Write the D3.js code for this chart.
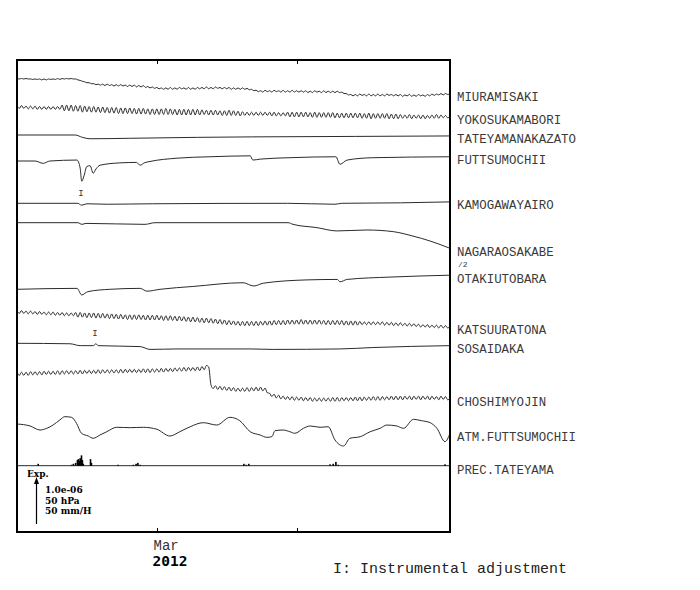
<!DOCTYPE html>
<html>
<head>
<meta charset="utf-8">
<script src="https://cdn.jsdelivr.net/npm/d3@7"></script>
<style>
  body { margin: 0; background: #fff; }
  svg text { font-family: "Liberation Mono", "Courier New", monospace; }
</style>
</head>
<body>
<svg id="chart" width="700" height="590"></svg>
<script>
// time span of the plot (UTC days)
const startDate = Date.UTC(2012, 0, 30);
const endDate = Date.UTC(2012, 4, 5);
const tickDates = [Date.UTC(2012, 2, 1), Date.UTC(2012, 3, 1)];
const tickLabels = ['Mar', ''];
const yearLabel = '2012';

// strain in 1e-8, [day from start, value]
const tateyamanakazato = [[0,0],[12.9,0],[14.5,-5],[16.2,-8],[25,-7],[40,-5],[52,-4],[75,-3],[96,-2]];
const futtsumochii = [[0,0],[4,0],[5.8,-5],[7.3,0],[13.3,2],[14,-15],[14.35,-43],[14.9,-30],[15.45,-12],
  [16.2,-10],[16.9,-26],[17.5,-17],[18.4,-9],[22.8,-4],[26.5,-3],[27.3,-9],[28.2,-4],[29.5,-1],[35.5,6],
  [42.8,9],[51.7,11],[52.3,2],[53.9,4],[60.5,7],[70.7,9],[71.6,-7],[73.2,2],[78.9,7],[96,9]];
const kamogawayairo = [[0,0],[13.5,0],[14.3,-4],[15.5,-1],[20,-2],[30,-1],[60,0],[70.5,-2],[72,0],[85,1],[96,3]];
const nagaraosakabe = [[0,0],[13.5,0],[14.4,-7],[15.3,-3],[28.4,-7],[30.6,0],[60.1,0],[61.2,-7],[66.5,-21],
  [70.9,-35],[77.6,-31],[83.4,-38],[87.8,-57],[91.6,-78],[96,-109]];
const otakiutobara = [[0,0],[13.3,2],[14.35,-12],[15.7,-5],[20.6,0],[27.3,2],[28.8,-4],[31.7,0],[39,6],
  [50.1,14],[52.5,7],[54.6,13],[64.3,20],[71,21],[71.6,16],[73.2,21],[82.7,26],[96,30]];
const sosaidaka = [[0,0],[11.75,-1],[14,-5],[16.9,-5],[17.5,-1],[18,-5],[27.3,-7],[29.5,-13],[35.5,-12],
  [51.7,-12],[56.8,-13],[71.6,-12],[78.9,-9],[96,-5]];

// strain in 1e-8, sampled every half day from the start
const sampleStep = 0.5;
const miuramisaki = [
  0,-1, 0,-1, 0,-1, -1,-2, -1,-2, -1,-3, -1,-3, -1,-2, -1,-2, 0,-2,
  0,-1, 0,-1, 0,-1, -1,-3, -4,-6, -7,-9, -9,-11, -11,-13, -12,-14, -12,-15,
  -12,-15, -13,-16, -13,-16, -13,-16, -14,-17, -14,-17, -14,-18, -15,-18, -15,-19, -17,-20,
  -18,-21, -19,-22, -20,-23, -20,-23, -19,-23, -20,-23, -19,-22, -20,-23, -19,-23, -20,-23,
  -19,-22, -19,-22, -18,-22, -19,-22, -18,-21, -19,-22, -19,-22, -19,-23, -20,-23, -20,-23,
  -20,-23, -21,-24, -23,-26, -25,-28, -26,-29, -25,-28, -26,-29, -25,-28, -26,-29, -25,-29,
  -26,-29, -25,-29, -26,-29, -26,-29, -26,-30, -27,-30, -26,-29, -27,-30, -26,-30, -27,-30,
  -27,-30, -27,-30, -29,-32, -32,-35, -34,-37, -34,-37, -33,-36, -34,-37, -33,-37, -34,-37,
  -33,-37, -34,-37, -33,-36, -34,-37, -34,-37, -34,-38, -35,-37, -34,-38, -35,-38, -34,-37,
  -35,-38, -34,-37, -33,-36, -33,-35, -32,-35, -32,-34,
  -33];
const yokosukamabori = [
  3,-3, 3,-3, 2,-4, 2,-4, 2,-5, 1,-5, 1,-5, 1,-5, 1,-5, 1,-5,
  4,-8, 4,-8, 4,-9, 3,-9, 3,-11, 2,-10, 1,-11, 1,-11, 0,-12, 0,-12,
  -1,-13, -1,-13, -1,-14, -2,-14, -2,-14, -2,-14, -3,-15, -3,-15, -3,-15, -4,-16,
  -4,-16, -4,-16, -4,-16, -3,-16, -4,-16, -5,-17, -5,-17, -5,-17, -5,-17, -5,-17,
  -5,-17, -6,-16, -7,-17, -7,-17, -7,-17, -8,-18, -8,-18, -7,-18, -8,-18, -9,-19,
  -10,-18, -11,-18, -11,-18, -11,-18, -11,-18, -11,-18, -11,-19, -11,-19, -12,-19, -12,-19,
  -11,-21, -11,-21, -11,-21, -11,-21, -11,-21, -12,-22, -11,-22, -12,-22, -12,-22, -12,-22,
  -12,-23, -13,-23, -13,-23, -13,-23, -13,-23, -13,-23, -13,-24, -14,-24, -13,-25, -14,-24,
  -14,-24, -14,-24, -14,-25, -15,-25, -15,-25, -16,-24, -17,-24, -16,-25, -17,-24, -17,-25,
  -17,-25, -18,-24, -17,-24, -16,-24, -17,-23, -18,-23,
  -20];
const katsuuratona = [
  3,-3, 3,-3, 2,-4, 2,-4, 1,-5, 1,-5, 0,-6, 0,-6, 0,-7, -1,-7,
  -1,-8, -2,-8, -2,-8, -1,-11, -1,-11, -2,-12, -2,-12, -2,-13, -3,-13, -3,-13,
  -4,-14, -4,-14, -5,-15, -5,-15, -6,-16, -6,-16, -6,-16, -6,-16, -7,-17, -7,-17,
  -7,-17, -7,-17, -8,-18, -8,-18, -8,-18, -9,-19, -9,-19, -10,-20, -11,-21, -11,-21,
  -12,-22, -13,-23, -13,-23, -14,-24, -15,-25, -16,-26, -17,-27, -18,-27, -19,-28, -20,-29,
  -20,-29, -20,-29, -20,-29, -20,-29, -20,-28, -19,-28, -19,-28, -18,-27, -18,-27, -18,-27,
  -17,-26, -17,-26, -17,-26, -16,-26, -17,-26, -17,-26, -17,-26, -17,-26, -18,-27, -18,-27,
  -18,-27, -18,-27, -18,-28, -19,-28, -19,-28, -19,-28, -20,-27, -21,-27, -21,-27, -21,-27,
  -21,-27, -21,-28, -22,-28, -22,-29, -23,-29, -23,-29, -24,-30, -24,-30, -25,-31, -26,-32,
  -27,-32, -27,-33, -28,-33, -28,-34, -28,-34, -29,-34,
  -31];
const choshimyojin = [
  4,-3, 4,-3, 4,-3, 5,-2, 5,-2, 5,-2, 6,-1, 6,-1, 6,-1, 7,-1,
  7,0, 7,0, 7,0, 7,0, 8,0, 8,1, 8,1, 8,1, 9,1, 9,2,
  9,2, 9,2, 9,2, 10,2, 10,3, 10,3, 10,3, 10,3, 11,3, 11,3,
  11,4, 11,4, 12,4, 12,5, 12,5, 13,6, 13,6, 14,6, 14,7, 14,7,
  15,7, 16,9, 18,15, -23,-31, -25,-33, -26,-34, -27,-35, -28,-36, -29,-37, -30,-37,
  -30,-37, -29,-37, -29,-36, -28,-36, -28,-36, -30,-40, -41,-48, -43,-51, -45,-53, -47,-54,
  -48,-55, -48,-56, -49,-56, -49,-57, -50,-57, -50,-58, -51,-58, -51,-58, -51,-58, -51,-58,
  -50,-58, -50,-58, -50,-57, -50,-57, -50,-57, -49,-57, -49,-57, -49,-56, -49,-56, -48,-56,
  -48,-56, -48,-55, -48,-55, -47,-55, -47,-55, -47,-55, -47,-54, -47,-55, -47,-54, -47,-55,
  -47,-54, -47,-55, -47,-54, -48,-55, -47,-54, -48,-55,
  -52];

// atmospheric pressure, hPa
const atmFuttsumochii = [[0,1012.0],[2.9,1009.9],[5.1,1005.6],[6.6,1007.4],[8,1010.9],[9.5,1016.3],
  [10.6,1019.8],[12.1,1019.1],[13.2,1012.7],[14.3,1002.1],[15.8,999.2],[16.9,996.8],[18.4,1000.3],
  [19.9,1003.8],[22.1,1008.5],[25.1,1008.1],[28,1008.5],[31,1006.4],[33.9,999.2],[36.1,1003.8],
  [38.4,1009.1],[41.3,1013.4],[44.3,1010.9],[47.2,1019.1],[49.4,1015.5],[51.7,1003.8],[53.9,1000.3],
  [55.4,997.8],[56.5,998.5],[57.2,1004.9],[59,1005.6],[60.5,1003.8],[61.6,1002.1],[63.5,1007.4],
  [65,1009.9],[67.2,1008.5],[69,1009.1],[70.5,995.0],[72.4,988.6],[73.8,996.8],[76.1,998.5],
  [78.3,1003.8],[80.5,1007.4],[82,1010.9],[84.2,1009.9],[85.7,1007.4],[87.9,1017.0],[89.7,1015.5],
  [91.6,1013.4],[93.1,1007.4],[94.9,993.2],[96,1002.1]];

// precipitation, mm/h
const precTateyama = [[4.7,2],[12.1,1],[12.5,2],[13,3],[13.4,6],[13.6,7],[13.9,5],[14,8],[14.3,11],
  [14.5,6],[14.7,2],[16.3,7],[16.5,3],[22.4,1],[25.8,1],[26.4,2],[26.8,3],[27.3,1],[50.3,2],[50.8,1],
  [51.4,2],[69.4,1.5],[70.1,2],[70.7,4],[71.2,1],[94.9,1.5]];

const adjustments = [{station: 'KAMOGAWAYAIRO', day: 14.2}, {station: 'SOSAIDAKA', day: 17.3}];

const scaleTexts = ['1.0e-06', '50 hPa', '50 mm/H'];

// ---- layout ----
const plot = {left: 17, right: 450, top: 60, bottom: 532};
const svg = d3.select('#chart');

const x = d3.scaleUtc().domain([startDate, endDate]).range([plot.left, plot.right]);
const dayToDate = (d) => new Date(startDate + d * 864e5);

// 1.0e-06 (100 x 1e-8), 50 hPa and 50 mm/H all share one arrow length
const strainY = d3.scaleLinear().domain([0, 100]).range([0, -47]);
const pressY = d3.scaleLinear().domain([0, 50]).range([0, -47]);
const precY = d3.scaleLinear().domain([0, 50]).range([0, -47]);

const halfDay = (arr) => arr.map((v, i) => [i * sampleStep, v]);

const traces = [
  {name: 'MIURAMISAKI', data: halfDay(miuramisaki), base: 78.5},
  {name: 'YOKOSUKAMABORI', data: halfDay(yokosukamabori), base: 107},
  {name: 'TATEYAMANAKAZATO', data: tateyamanakazato, base: 135},
  {name: 'FUTTSUMOCHII', data: futtsumochii, base: 161},
  {name: 'KAMOGAWAYAIRO', data: kamogawayairo, base: 203.3},
  {name: 'NAGARAOSAKABE', data: nagaraosakabe, base: 222.7, factor: 0.5, note: '/2'},
  {name: 'OTAKIUTOBARA', data: otakiutobara, base: 289.3},
  {name: 'KATSUURATONA', data: halfDay(katsuuratona), base: 312},
  {name: 'SOSAIDAKA', data: sosaidaka, base: 343.3},
  {name: 'CHOSHIMYOJIN', data: halfDay(choshimyojin), base: 374},
  {name: 'ATM.FUTTSUMOCHII', data: atmFuttsumochii, base: 424, ref: 1012, scale: pressY}
];

const ink = '#2b2b2b';
const labelInk = '#3a3a3a';
const g = svg.append('g');

traces.forEach((t) => {
  const ys = t.scale || strainY;
  const f = t.factor || 1;
  const ref = t.ref || 0;
  t.y = (v) => t.base + ys((v - ref) * f);
  const line = d3.line()
    .x((d) => x(dayToDate(d[0])))
    .y((d) => t.y(d[1]))
    .curve(d3.curveMonotoneX);
  g.append('path')
    .datum(t.data)
    .attr('d', line)
    .attr('fill', 'none')
    .attr('stroke', ink)
    .attr('stroke-width', 1);

  // label sits just under the end of the trace
  const lastY = t.y(t.data[t.data.length - 1][1]);
  g.append('text')
    .attr('x', 457).attr('y', lastY + 3).attr('dy', '0.35em')
    .attr('font-size', 12.4).attr('fill', labelInk)
    .text(t.name);
  if (t.note) {
    g.append('text')
      .attr('x', 458).attr('y', lastY + 16).attr('dy', '0.35em')
      .attr('font-size', 8).attr('fill', labelInk)
      .text(t.note);
  }
});

// precipitation
const precBase = 465.7;
g.append('line')
  .attr('x1', plot.left).attr('x2', plot.right)
  .attr('y1', precBase).attr('y2', precBase)
  .attr('stroke', ink).attr('stroke-width', 1);
g.selectAll('rect.prec')
  .data(precTateyama)
  .join('rect')
  .attr('class', 'prec')
  .attr('x', (d) => x(dayToDate(d[0])) - 0.8)
  .attr('width', 1.6)
  .attr('y', (d) => precBase + precY(d[1]))
  .attr('height', (d) => -precY(d[1]))
  .attr('fill', '#000');
g.append('text')
  .attr('x', 457).attr('y', precBase + 3.5).attr('dy', '0.35em')
  .attr('font-size', 12.4).attr('fill', labelInk)
  .text('PREC.TATEYAMA');

// instrumental adjustment marks
adjustments.forEach((a) => {
  const t = traces.find((tr) => tr.name === a.station);
  g.append('text')
    .attr('x', x(dayToDate(a.day))).attr('y', t.base - 10).attr('dy', '0.35em')
    .attr('text-anchor', 'middle').attr('font-size', 9).attr('fill', '#333')
    .text('I');
});

// frame
svg.append('rect')
  .attr('x', plot.left).attr('y', plot.top)
  .attr('width', plot.right - plot.left).attr('height', plot.bottom - plot.top)
  .attr('fill', 'none').attr('stroke', '#000').attr('stroke-width', 2);

// ticks, inward at top and bottom
tickDates.forEach((d, i) => {
  const tx = Math.round(x(d)) + 0.5;
  svg.append('line').attr('x1', tx).attr('x2', tx)
    .attr('y1', plot.top).attr('y2', plot.top + 4).attr('stroke', '#000');
  svg.append('line').attr('x1', tx).attr('x2', tx)
    .attr('y1', plot.bottom).attr('y2', plot.bottom - 4).attr('stroke', '#000');
  if (tickLabels[i]) {
    svg.append('text')
      .attr('x', tx - 4).attr('y', 550)
      .attr('font-size', 14).attr('fill', '#333')
      .text(tickLabels[i]);
    svg.append('text')
      .attr('x', tx - 5).attr('y', 566)
      .attr('font-size', 14.5).attr('font-weight', 'bold')
      .style('font-family', '"DejaVu Sans Mono", monospace')
      .text(yearLabel);
  }
});

// scale legend
const arrowX = 36.5, arrowBottom = 524;
svg.append('text')
  .attr('x', 27).attr('y', 477)
  .attr('font-size', 9).attr('font-weight', 'bold')
  .style('font-family', '"DejaVu Serif", serif')
  .text('Exp.');
svg.append('line')
  .attr('x1', arrowX).attr('x2', arrowX)
  .attr('y1', arrowBottom).attr('y2', arrowBottom + strainY(100) + 4)
  .attr('stroke', '#000').attr('stroke-width', 1.2);
svg.append('path')
  .attr('d', `M${arrowX},${arrowBottom + strainY(100)} l-2.5,7 l5,0 z`)
  .attr('fill', '#000');
scaleTexts.forEach((s, i) => {
  svg.append('text')
    .attr('x', 45).attr('y', 493 + i * 10.5)
    .attr('font-size', 9).attr('font-weight', 'bold')
    .style('font-family', '"DejaVu Serif", serif')
    .text(s);
});

svg.append('text')
  .attr('x', 333).attr('y', 572.5)
  .attr('font-size', 15).attr('fill', '#222')
  .text('I: Instrumental adjustment');
</script>
</body>
</html>
